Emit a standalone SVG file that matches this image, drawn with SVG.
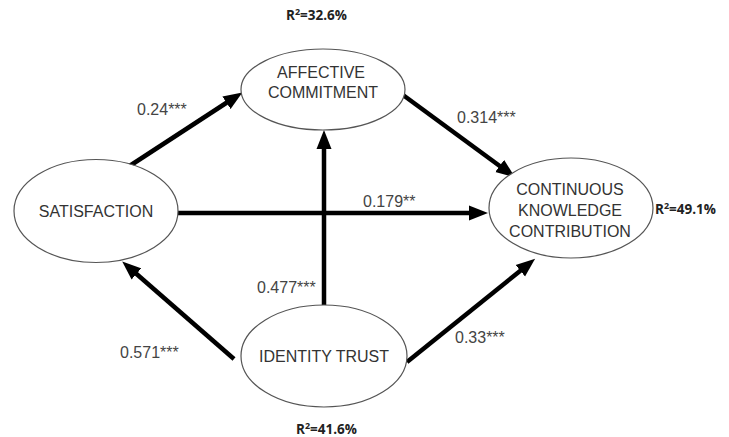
<svg xmlns="http://www.w3.org/2000/svg" width="729" height="437" viewBox="0 0 729 437">
<style>
.node ellipse{fill:#fff;stroke:#555;stroke-width:1.2}
.nt{font-family:"Liberation Sans",Arial,sans-serif;font-size:16px;fill:#333;text-anchor:middle}
.lbl{font-family:"Liberation Sans",Arial,sans-serif;font-size:16px;fill:#444}
.r2{font-family:"Open Sans","Liberation Sans",sans-serif;font-size:13.5px;font-weight:bold;fill:#222}
.conn line{stroke:#000;stroke-width:4.5;marker-end:url(#ah)}
</style>
<defs>
<marker id="ah" markerUnits="userSpaceOnUse" markerWidth="20" markerHeight="16" refX="6" refY="7.5" orient="auto" viewBox="0 0 20 15">
<path d="M0,0 L19,7.5 L0,15 z" fill="#000"/>
</marker>
</defs>
<rect width="729" height="437" fill="#fff"/>
<g class="conn" id="connectors">
<line x1="128" y1="167" x2="231.5" y2="99.5"/>
<line x1="403" y1="95" x2="504.5" y2="169.5"/>
<line x1="178" y1="213" x2="475" y2="213"/>
<line x1="324" y1="305" x2="324" y2="143"/>
<line x1="234" y1="359" x2="132" y2="270"/>
<line x1="407" y1="362" x2="525" y2="267"/>
</g>
<g class="node" id="affective">
<ellipse cx="323" cy="89.5" rx="82" ry="40.5"/>
<text class="nt" x="321" y="78">AFFECTIVE</text>
<text class="nt" x="323" y="98">COMMITMENT</text>
</g>
<g class="node" id="continuous">
<ellipse cx="571" cy="208" rx="82" ry="50"/>
<text class="nt" x="570" y="195">CONTINUOUS</text>
<text class="nt" x="570" y="216">KNOWLEDGE</text>
<text class="nt" x="570" y="237">CONTRIBUTION</text>
</g>
<g class="node" id="satisfaction">
<ellipse cx="96" cy="211" rx="82" ry="51.5"/>
<text class="nt" x="96" y="217">SATISFACTION</text>
</g>
<g class="node" id="identity">
<ellipse cx="324" cy="356" rx="83" ry="51"/>
<text class="nt" x="324" y="362">IDENTITY TRUST</text>
</g>
<g id="labels">
<text class="lbl" x="137" y="115">0.24***</text>
<text class="lbl" x="457" y="123">0.314***</text>
<text class="lbl" x="363" y="207">0.179**</text>
<text class="lbl" x="257" y="293">0.477***</text>
<text class="lbl" x="455" y="343">0.33***</text>
<text class="lbl" x="120" y="358">0.571***</text>
<text class="r2" x="286" y="20">R<tspan font-size="9" dy="-5">2</tspan><tspan dy="5">=32.6%</tspan></text>
<text class="r2" x="655" y="214">R<tspan font-size="9" dy="-5">2</tspan><tspan dy="5">=49.1%</tspan></text>
<text class="r2" x="296" y="434">R<tspan font-size="9" dy="-5">2</tspan><tspan dy="5">=41.6%</tspan></text>
</g>
</svg>
